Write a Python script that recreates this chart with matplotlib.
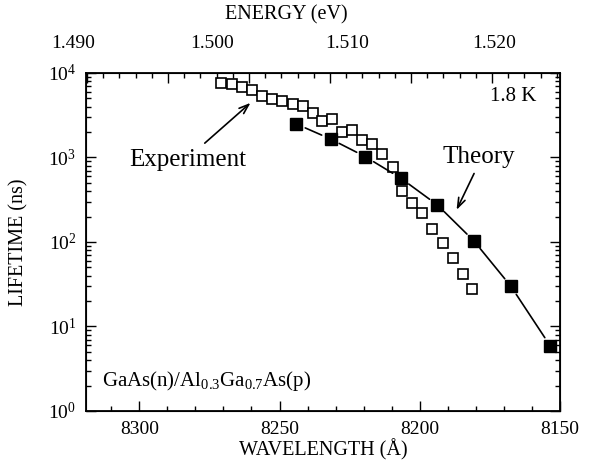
import matplotlib
matplotlib.use("Agg")
import matplotlib.pyplot as plt
from matplotlib.ticker import MultipleLocator, NullFormatter

plt.rcParams['font.family'] = ['Liberation Serif', 'DejaVu Serif']
plt.rcParams['mathtext.fontset'] = 'custom'
plt.rcParams['mathtext.rm'] = 'Liberation Serif'
plt.rcParams['mathtext.it'] = 'Liberation Serif:italic'

# experiment (open squares)
exp_wl = [8270.7, 8267.0, 8263.4, 8259.8, 8256.2, 8252.6, 8249.0, 8245.3, 8241.8,
          8238.2, 8234.8, 8231.2, 8227.7, 8224.1, 8220.6, 8217.0, 8213.3, 8209.7,
          8206.2, 8202.6, 8199.1, 8195.5, 8191.8, 8188.3, 8184.7, 8181.2]
exp_life = [7680, 7470, 6890, 6290, 5340, 4950, 4700, 4240, 4100,
            3340, 2680, 2860, 2000, 2100, 1610, 1460, 1090, 778,
            405, 290, 219, 144, 97, 64.7, 41.6, 27.6]

# theory (filled squares)
th_wl = [8244.0, 8231.8, 8219.4, 8206.7, 8193.7, 8180.7, 8167.5, 8153.5]
th_life = [2490, 1655, 1022, 567, 274, 103, 29.9, 5.91]

energy_labels = ['1.490', '1.500', '1.510', '1.520']
energy_label_x = [-0.027, 0.266, 0.551, 0.861]

fig = plt.figure(figsize=(6.1, 4.67), dpi=100)
ax = fig.add_axes([0.141, 0.12, 0.777, 0.7237])

ax.plot(exp_wl, exp_life, 's', mfc='white', mec='black', ms=7, mew=1.2, zorder=3)
ax.plot(th_wl, th_life, 's', color='black', ms=8.5, zorder=4)
# theory line with gaps around the markers
for i in range(len(th_wl) - 1):
    ax.annotate('', xy=(th_wl[i + 1], th_life[i + 1]), xytext=(th_wl[i], th_life[i]),
                arrowprops=dict(arrowstyle='-', shrinkA=7, shrinkB=7, lw=1.2, color='black'))

ax.set_yscale('log')
ax.set_ylim(1, 1e4)
ax.set_xlim(8319, 8150)
ax.xaxis.set_major_locator(MultipleLocator(50))
ax.xaxis.set_minor_locator(MultipleLocator(10))
ax.tick_params(which='both', direction='in', right=True, top=False, labelsize=14, width=1)
ax.tick_params(which='major', length=7, pad=7)
ax.tick_params(which='minor', length=3.5)
for s in ax.spines.values():
    s.set_linewidth(1.3)

ax.set_xlabel('WAVELENGTH (Å)', fontsize=14.5, labelpad=1)
ax.set_ylabel('LIFETIME (ns)', fontsize=14.5, labelpad=14)

# energy axis on top
ax2 = ax.twiny()
ax2.set_xlim(1.48994, 1.5192)
ax2.xaxis.set_major_locator(MultipleLocator(0.005))
ax2.xaxis.set_minor_locator(MultipleLocator(0.001))
ax2.xaxis.set_major_formatter(NullFormatter())
ax2.tick_params(which='both', direction='in', width=1)
ax2.tick_params(which='major', length=7)
ax2.tick_params(which='minor', length=3.5)
for lab, xf in zip(energy_labels, energy_label_x):
    ax.text(xf, 1.086, lab, transform=ax.transAxes, ha='center', va='center', fontsize=14)
ax.text(0.422, 1.172, 'ENERGY (eV)', transform=ax.transAxes, ha='center', va='center', fontsize=14.5)

# annotations
ax.text(0.901, 0.929, '1.8 K', transform=ax.transAxes, ha='center', va='center', fontsize=15)
ax.text(8282.9, 934, 'Experiment', ha='center', va='center', fontsize=18)
ax.annotate('', xy=(8259.6, 4660), xytext=(8277.4, 1406),
            arrowprops=dict(arrowstyle='->,head_length=0.7,head_width=0.25', lw=1.2, color='black'))
ax.text(8179.1, 1014, 'Theory', ha='center', va='center', fontsize=18)
ax.annotate('', xy=(8187.3, 224), xytext=(8180.2, 692),
            arrowprops=dict(arrowstyle='->,head_length=0.7,head_width=0.25', lw=1.2, color='black'))
ax.text(0.034, 0.089, r'GaAs(n)/Al$_{0.3}$Ga$_{0.7}$As(p)', transform=ax.transAxes,
        ha='left', va='center', fontsize=15)

fig.savefig('out.png', dpi=100)
